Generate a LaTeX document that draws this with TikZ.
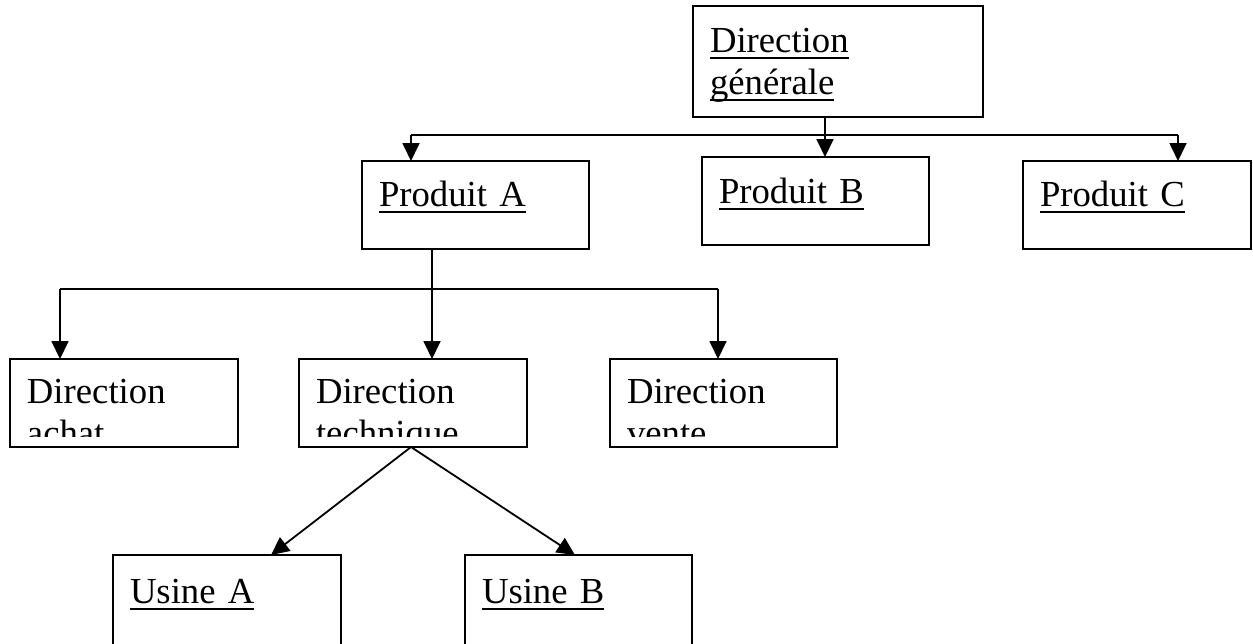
\documentclass[tikz,border=0pt]{standalone}
\usepackage{fontspec}
\setmainfont{Liberation Serif}
\usetikzlibrary{arrows.meta}
\newcommand{\souligne}[1]{\leavevmode\setbox0=\hbox{#1}\rlap{\vrule height -5pt depth 7pt width \wd0}\box0}

\begin{document}
\begin{tikzpicture}[x=1pt,y=-1pt,
  trait/.style={line width=1.8pt},
  box/.style={draw, line width=1.8pt, anchor=north west, outer sep=0pt, align=left,
    inner xsep=17pt, inner ysep=0pt, font=\fontsize{36.7}{42}\selectfont},
  fleche/.style={line width=1.8pt, -{Triangle[width=17pt,length=18pt]}}]
  \useasboundingbox (0,0) rectangle (1253,643);

  % direction et produits
  \node[box, text width=256pt, text height=46pt, text depth=65pt] (dg) at (693,6) {\souligne{Direction}\\\souligne{générale}};
  \node[box, text width=193pt, text height=45pt, text depth=43pt] (prodA) at (362,161) {\souligne{Produit A}};
  \node[box, text width=193pt, text height=46pt, text depth=42pt] (prodB) at (702,157) {\souligne{Produit B}};
  \node[box, text width=194pt, text height=45pt, text depth=43pt] (prodC) at (1023,161) {\souligne{Produit C}};

  % directions, texte coupe
  \begin{scope}
    \clip (0,300) rectangle (1253,436);
    \node[box, draw=none, text width=194pt, text height=44pt, text depth=44pt] (achat) at (10,359) {Direction\\achat};
    \node[box, draw=none, text width=194pt, text height=44pt, text depth=44pt] (tech) at (299,359) {Direction\\technique};
    \node[box, draw=none, text width=193pt, text height=44pt, text depth=44pt] (vente) at (610,359) {Direction\\vente};
  \end{scope}
  \foreach \n in {achat,tech,vente}
    \draw[trait] (\n.north west) rectangle (\n.south east);

  % usines
  \node[box, text width=194pt, text height=48pt, text depth=60pt] (usA) at (113,555) {\souligne{Usine A}};
  \node[box, text width=193pt, text height=48pt, text depth=60pt] (usB) at (465,555) {\souligne{Usine B}};

  % liaisons
  \coordinate (busA) at (411,135);
  \coordinate (busB) at (825,135);
  \coordinate (busC) at (1178,135);
  \draw[trait] (busA) -- (busC);
  \draw[fleche] (dg.south -| busB) -- (busB |- prodB.north);
  \draw[fleche] (busA) -- (busA |- prodA.north);
  \draw[fleche] (busC) -- (busC |- prodC.north);

  \coordinate (gauche) at (60,289);
  \coordinate (milieu) at (432,289);
  \coordinate (droite) at (718,289);
  \draw[trait] (gauche) -- (droite);
  \draw[fleche] (prodA.south -| milieu) -- (milieu |- tech.north);
  \draw[fleche] (gauche) -- (gauche |- achat.north);
  \draw[fleche] (droite) -- (droite |- vente.north);

  \coordinate (fourche) at (411,0);
  \coordinate (pointeA) at (271,0);
  \coordinate (pointeB) at (575,0);
  \draw[fleche] (tech.south -| fourche) -- (usA.north -| pointeA);
  \draw[fleche] (tech.south -| fourche) -- (usB.north -| pointeB);
\end{tikzpicture}
\end{document}
